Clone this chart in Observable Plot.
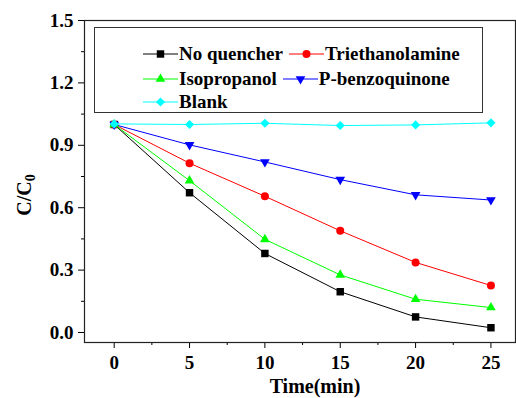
<!DOCTYPE html>
<html>
<head>
<meta charset="utf-8">
<script src="https://cdn.jsdelivr.net/npm/d3@7"></script>
<script src="https://cdn.jsdelivr.net/npm/@observablehq/plot@0.6"></script>
<style>
  html, body { margin: 0; padding: 0; background: #fff; }
  #wrap { position: relative; width: 516px; height: 398px; font-family: "Liberation Serif", "Times New Roman", Times, "DejaVu Serif", serif; font-weight: bold; }
  #wrap svg { display: block; }
  .lab { position: absolute; font-size: 20px; color: #000; white-space: nowrap; }
  #legend { position: absolute; left: 94px; top: 27px; width: 389px; height: 86px; border: 1px solid #333; box-sizing: border-box; background: #fff; }
  .row { position: absolute; left: 48px; height: 24px; display: flex; align-items: center; font-size: 19px; white-space: nowrap; }
  .item { display: flex; align-items: center; margin-right: 6px; }
  .item svg { margin-right: 1px; }
</style>
</head>
<body>
<div id="wrap"></div>
<script>
const times = [0, 5, 10, 15, 20, 25];
const seriesNames = ["No quencher", "Triethanolamine", "Isopropanol", "P-benzoquinone", "Blank"];
const noQuencher = [1.0, 0.672, 0.38, 0.196, 0.075, 0.023];
const triethanolamine = [1.0, 0.814, 0.655, 0.489, 0.337, 0.226];
const isopropanol = [1.0, 0.73, 0.448, 0.277, 0.16, 0.12];
const pBenzoquinone = [1.0, 0.902, 0.82, 0.735, 0.662, 0.637];
const blank = [1.003, 1.0, 1.006, 0.995, 0.998, 1.008];
const xTicks = [0, 5, 10, 15, 20, 25];
const xMinorTicks = [2.5, 7.5, 12.5, 17.5, 22.5];
const yTicks = [0.0, 0.3, 0.6, 0.9, 1.2, 1.5];
const yMinorTicks = [0.15, 0.45, 0.75, 1.05, 1.35];

const FONT = '"Liberation Serif", "Times New Roman", Times, "DejaVu Serif", serif';
const colors = ["#000000", "#ff0000", "#00ff00", "#0000ff", "#00ffff"];
const sqrt3 = Math.sqrt(3);
const triangleDown = {
  draw(context, size) {
    const y = Math.sqrt(size / (sqrt3 * 3));
    context.moveTo(0, y * 2);
    context.lineTo(-sqrt3 * y, -y);
    context.lineTo(sqrt3 * y, -y);
    context.closePath();
  }
};
const symbols = ["square", "circle", "triangle", triangleDown, "diamond2"];
const radii = [4.2, 4.0, 3.6, 3.6, 4.1];
const values = [noQuencher, triethanolamine, isopropanol, pBenzoquinone, blank];

const data = [];
seriesNames.forEach((name, i) => {
  times.forEach((t, j) => data.push({series: name, idx: i, t, v: values[i][j]}));
});

const marks = [];
seriesNames.forEach((name, i) => {
  const d = data.filter(r => r.idx === i);
  marks.push(Plot.line(d, {x: "t", y: "v", stroke: colors[i], strokeWidth: 1}));
});
seriesNames.forEach((name, i) => {
  const d = data.filter(r => r.idx === i);
  marks.push(Plot.dot(d, {x: "t", y: "v", fill: colors[i], stroke: "none", symbol: () => symbols[i], r: radii[i]}));
});

const chart = Plot.plot({
  width: 516,
  height: 398,
  marginLeft: 84,
  marginRight: 1,
  marginTop: 20,
  marginBottom: 56,
  style: {fontFamily: FONT, fontWeight: "bold", fontSize: "19px", background: "#fff", overflow: "visible"},
  x: {domain: [-1.97, 26.63]},
  y: {domain: [-0.048, 1.5]},
  symbol: {type: "identity"},
  marks: [
    Plot.axisX(xTicks, {tickSize: 6, tickPadding: 7, label: null, stroke: "#000", fontSize: 19, fontWeight: "bold", fontFamily: FONT}),
    Plot.axisX(xMinorTicks, {tickSize: 3, text: null, label: null, stroke: "#000"}),
    Plot.axisY(yTicks, {tickSize: 6, tickPadding: 5, label: null, tickFormat: d3.format(".1f"), stroke: "#000", fontSize: 19, fontWeight: "bold", fontFamily: FONT}),
    Plot.axisY(yMinorTicks, {tickSize: 3, text: null, label: null, stroke: "#000"}),
    ...marks,
    Plot.frame({stroke: "#222", strokeWidth: 1.2})
  ]
});
const wrap = document.getElementById("wrap");
wrap.appendChild(chart);

// axis titles
const xl = document.createElement("div");
xl.className = "lab";
xl.textContent = "Time(min)";
xl.style.left = "315px";
xl.style.top = "376px";
xl.style.transform = "translateX(-50%)";
xl.style.lineHeight = "20px";
wrap.appendChild(xl);

const yl = document.createElement("div");
yl.className = "lab";
yl.innerHTML = 'C/C<sub style="font-size:14px;vertical-align:-4px">0</sub>';
yl.style.left = "27px";
yl.style.top = "195px";
yl.style.lineHeight = "20px";
yl.style.transform = "translate(-50%, -50%) rotate(-90deg)";
wrap.appendChild(yl);

// legend
const legend = document.createElement("div");
legend.id = "legend";
wrap.appendChild(legend);
const rows = [[0, 1], [2, 3], [4]];
const rowTops = [14, 39, 62];
rows.forEach((r, ri) => {
  const row = document.createElement("div");
  row.className = "row";
  row.style.top = rowTops[ri] + "px";
  r.forEach(i => {
    const item = document.createElement("span");
    item.className = "item";
    const svg = d3.create("svg").attr("width", 35).attr("height", 14);
    svg.append("line").attr("x1", 0).attr("x2", 35).attr("y1", 7).attr("y2", 7).attr("stroke", colors[i]).attr("stroke-width", 1);
    const sym = typeof symbols[i] === "string"
      ? {square: d3.symbolSquare, circle: d3.symbolCircle, triangle: d3.symbolTriangle, diamond2: d3.symbolDiamond2}[symbols[i]]
      : symbols[i];
    svg.append("path").attr("d", d3.symbol(sym, Math.PI * radii[i] * radii[i])()).attr("transform", "translate(17.5,7)").attr("fill", colors[i]);
    item.appendChild(svg.node());
    const txt = document.createElement("span");
    txt.textContent = seriesNames[i];
    item.appendChild(txt);
    row.appendChild(item);
  });
  legend.appendChild(row);
});
</script>
</body>
</html>
